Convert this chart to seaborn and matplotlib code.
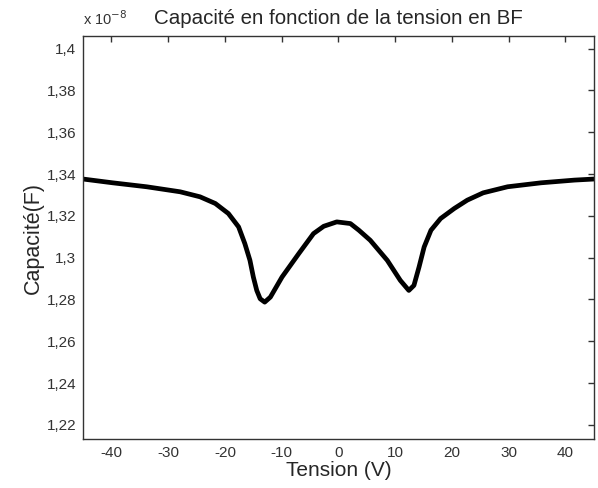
import numpy as np
import pandas as pd
import matplotlib
matplotlib.use("Agg")
import matplotlib.pyplot as plt
import seaborn as sns
from matplotlib.ticker import FuncFormatter

# ------------------------------------------------------------------
# data read off the C(V) curve (capacitance in units of 1e-8 F)
# ------------------------------------------------------------------
tension = [-45.0, -39.8, -33.8, -27.9, -24.4, -21.7, -19.4, -17.6, -16.5,
           -15.6, -15.0, -14.4, -13.8, -13.0, -12.0, -9.95, -7.0, -4.4,
           -2.6, -0.3, 2.1, 3.6, 5.6, 8.6, 10.9, 12.4, 13.3, 14.2, 15.1,
           16.3, 18.0, 20.4, 22.7, 25.5, 29.8, 35.7, 41.6, 45.0]
capacite = [1.3376, 1.3358, 1.3339, 1.3315, 1.3291, 1.3259, 1.3211, 1.3147, 1.3067,
            1.2987, 1.2907, 1.2843, 1.2803, 1.2787, 1.2811, 1.2907, 1.3019, 1.3115,
            1.3150, 1.3171, 1.3163, 1.3131, 1.3083, 1.2987, 1.2891, 1.2843, 1.2867, 1.2955, 1.3051,
            1.3131, 1.3187, 1.3235, 1.3275, 1.3310, 1.3339, 1.3358, 1.3371, 1.3376]
x_ticks = [-40, -30, -20, -10, 0, 10, 20, 30, 40]
y_ticks = [1.22, 1.24, 1.26, 1.28, 1.30, 1.32, 1.34, 1.36, 1.38, 1.40]

df = pd.DataFrame({"Tension": tension, "Capacite": np.array(capacite) * 1e-8})

sns.set_theme(style="white")
plt.rcParams["font.family"] = ["Liberation Sans", "DejaVu Sans"]

fig = plt.figure(figsize=(5.98, 4.88), dpi=100)
ax = fig.add_axes([0.139, 0.1004, 0.854, 0.8256])

sns.lineplot(data=df, x="Tension", y="Capacite", ax=ax, color="black",
             linewidth=3.4, sort=False, estimator=None)

ax.set_xlim(-45, 45)
ax.set_ylim(1.2132e-8, 1.406e-8)
ax.set_xticks(x_ticks)
ax.set_yticks([v * 1e-8 for v in y_ticks])
ax.xaxis.set_major_formatter(FuncFormatter(lambda v, p: f"{v:g}"))
ax.yaxis.set_major_formatter(
    FuncFormatter(lambda v, p: f"{round(v / 1e-8, 2):g}".replace(".", ",")))

ax.tick_params(direction="in", length=4, width=1, top=True, right=True,
               labelsize=11, labelcolor="#333333", color="#333333", pad=5)
for s in ax.spines.values():
    s.set_color("#333333")
    s.set_linewidth(1)

ax.set_xlabel("Tension (V)", fontsize=15, labelpad=1)
ax.set_ylabel("Capacité(F)", fontsize=15.5, labelpad=2)
ax.set_title("Capacité en fonction de la tension en BF", fontsize=14.8, pad=9)
ax.text(0.0, 1.02, r"x 10$^{-8}$", transform=ax.transAxes, fontsize=10.5,
        color="#333333", ha="left", va="bottom")

fig.savefig("out.png", dpi=100)
